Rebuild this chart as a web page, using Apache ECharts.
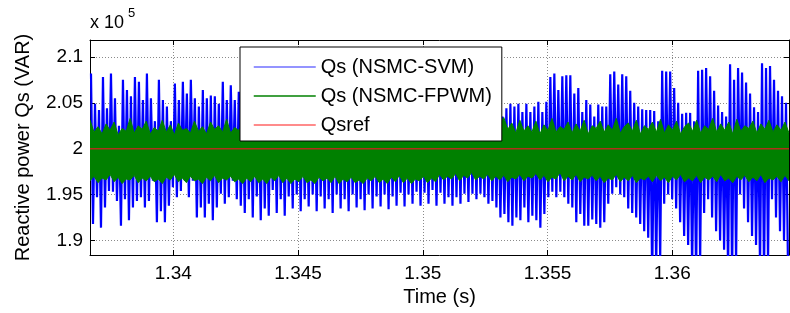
<!DOCTYPE html>
<html>
<head>
<meta charset="utf-8">
<script src="https://cdn.jsdelivr.net/npm/echarts@6/dist/echarts.min.js"></script>
<style>
  html, body { margin: 0; padding: 0; background: #fff; }
  #main { width: 790px; height: 313px; }
</style>
</head>
<body>
<div id="main"></div>
<script type="text/javascript">
// time window of the plot (s) and sample step of the read-off values
var tStart = 1.33666, tEnd = 1.36468;
var tStep = (tEnd - tStart) / 175;

// Qs (NSMC-SVM): upper and lower spike peaks, x1e5 VAR, one pair per step
var blueHi = [
  2.082, 2.049, 2.042, 2.078, 2.044, 2.082, 2.055, 2.025, 2.075, 2.064,
  2.057, 2.078, 2.073, 2.053, 2.082, 2.055, 2.030, 2.075, 2.053, 2.046,
  2.030, 2.071, 2.053, 2.073, 2.060, 2.075, 2.055, 2.046, 2.064, 2.055,
  2.058, 2.057, 2.049, 2.073, 2.053, 2.069, 2.053,
  2.062, 2.045, 2.071, 2.050, 2.066, 2.041, 2.070, 2.052, 2.064, 2.046,
  2.068, 2.051, 2.060, 2.043, 2.066, 2.049, 2.062, 2.045, 2.067, 2.052,
  2.058, 2.044, 2.064, 2.050, 2.061, 2.042, 2.063, 2.048, 2.059, 2.045,
  2.062, 2.050, 2.057, 2.043, 2.060, 2.047, 2.056, 2.044, 2.059, 2.049,
  2.055, 2.042, 2.058, 2.046, 2.054, 2.043, 2.057, 2.048, 2.053, 2.041,
  2.056, 2.045, 2.052, 2.044, 2.055, 2.047, 2.051, 2.040, 2.054, 2.046,
  2.050, 2.043, 2.053, 2.045, 2.049, 2.041,
  2.035, 2.044, 2.049, 2.046, 2.049, 2.040, 2.049, 2.040, 2.046, 2.051,
  2.040, 2.051, 2.078, 2.082, 2.064, 2.079, 2.080, 2.080, 2.060, 2.066,
  2.040, 2.053, 2.048, 2.035, 2.048, 2.046, 2.046, 2.081, 2.084, 2.070,
  2.081, 2.079, 2.063, 2.050, 2.046, 2.043, 2.042, 2.042, 2.041, 2.030,
  2.085, 2.084, 2.084, 2.066, 2.050, 2.038, 2.039, 2.039, 2.030, 2.085,
  2.086, 2.088, 2.079, 2.063, 2.047, 2.040, 2.035, 2.092, 2.075, 2.088,
  2.083, 2.072, 2.060, 2.045, 2.040, 2.093, 2.088, 2.090, 2.075, 2.063,
  2.057, 2.050
];
var blueLo = [
  1.918, 1.947, 1.914, 1.936, 1.954, 1.953, 1.943, 1.916, 1.945, 1.922,
  1.936, 1.943, 1.947, 1.936, 1.943, 1.965, 1.920, 1.932, 1.920, 1.938,
  1.958, 1.947, 1.954, 1.965, 1.947, 1.965, 1.925, 1.936, 1.925, 1.940,
  1.922, 1.936, 1.951, 1.940, 1.947, 1.965, 1.945, 1.938, 1.930, 1.945,
  1.925, 1.948, 1.922, 1.935,
  1.927, 1.955, 1.930, 1.945, 1.927, 1.948, 1.935, 1.950, 1.932, 1.945,
  1.937, 1.950, 1.932, 1.948, 1.935, 1.945, 1.930, 1.950, 1.935, 1.945,
  1.932, 1.950, 1.936, 1.945, 1.933, 1.950, 1.935, 1.948, 1.937, 1.950,
  1.934, 1.948, 1.938, 1.952, 1.937, 1.950, 1.940, 1.953, 1.938, 1.952,
  1.940, 1.955, 1.938, 1.952,
  1.940, 1.947, 1.938, 1.947, 1.940, 1.951, 1.942, 1.951, 1.945, 1.951,
  1.947, 1.940, 1.943, 1.936, 1.925, 1.929, 1.920, 1.916, 1.925, 1.922,
  1.936, 1.920, 1.927, 1.922, 1.914, 1.929, 1.947, 1.953, 1.947, 1.953,
  1.947, 1.940, 1.936, 1.920, 1.929, 1.916, 1.916, 1.923, 1.918, 1.914,
  1.920, 1.940, 1.951, 1.958,
  1.950, 1.947, 1.935, 1.930, 1.925, 1.918, 1.910, 1.903, 1.860, 1.870,
  1.880, 1.940, 1.950, 1.945, 1.935, 1.920, 1.905, 1.895, 1.870, 1.860,
  1.875, 1.930, 1.945, 1.925, 1.910, 1.900, 1.890, 1.865, 1.860, 1.875,
  1.950, 1.935, 1.920, 1.905, 1.895, 1.870, 1.860, 1.875, 1.945, 1.925,
  1.910, 1.900, 1.870
];

// Qs (NSMC-FPWM): top and bottom edge of the dense band
var greenHi = [
  2.031, 2.018, 2.024, 2.016, 2.027, 2.020, 2.029, 2.015, 2.022, 2.019,
  2.033, 2.017, 2.025, 2.021, 2.030, 2.016, 2.023, 2.019, 2.031, 2.018,
  2.026, 2.015, 2.028, 2.020, 2.022, 2.017, 2.030, 2.019, 2.024, 2.016,
  2.029, 2.021, 2.025, 2.018, 2.032, 2.017, 2.023, 2.020, 2.027, 2.016,
  2.026, 2.019, 2.030, 2.017, 2.024, 2.021, 2.028, 2.016, 2.025, 2.020,
  2.031, 2.018, 2.023, 2.017, 2.027, 2.020, 2.029, 2.016, 2.024, 2.019,
  2.028, 2.017, 2.026, 2.021, 2.030, 2.018, 2.022, 2.016, 2.027, 2.020,
  2.025, 2.017, 2.029, 2.019, 2.023, 2.016, 2.028, 2.021, 2.026, 2.018,
  2.030, 2.017, 2.024, 2.020, 2.027, 2.016, 2.029, 2.019, 2.025, 2.018,
  2.031, 2.017, 2.026, 2.020, 2.023, 2.016, 2.028, 2.019, 2.030, 2.018,
  2.024, 2.017, 2.027, 2.034, 2.021, 2.028, 2.017, 2.031, 2.019, 2.025,
  2.018, 2.030, 2.016, 2.026, 2.020, 2.033, 2.018, 2.024, 2.021, 2.029,
  2.017, 2.027, 2.019, 2.031, 2.016, 2.025, 2.022, 2.030, 2.018, 2.026,
  2.020, 2.033, 2.017, 2.024, 2.028, 2.019, 2.031, 2.016, 2.025, 2.021,
  2.029, 2.018, 2.032, 2.017, 2.026, 2.020, 2.030, 2.016, 2.024, 2.028,
  2.019, 2.031, 2.017, 2.025, 2.021, 2.033, 2.018, 2.027, 2.020, 2.029,
  2.016, 2.032, 2.019, 2.025, 2.022, 2.030, 2.017, 2.027, 2.021, 2.031,
  2.018, 2.026, 2.020, 2.029, 2.017
];
var greenLo = [
  1.965, 1.970, 1.963, 1.968, 1.966, 1.972, 1.964, 1.969, 1.962, 1.967,
  1.966, 1.971, 1.963, 1.968, 1.965, 1.970, 1.964, 1.967, 1.962, 1.969,
  1.966, 1.972, 1.964, 1.968, 1.963, 1.970, 1.965, 1.967, 1.962, 1.969,
  1.965, 1.971, 1.963, 1.968, 1.966, 1.970, 1.964, 1.967, 1.962, 1.968,
  1.964, 1.970, 1.963, 1.967, 1.962, 1.969, 1.965, 1.971, 1.963, 1.968,
  1.962, 1.967, 1.964, 1.970, 1.963, 1.966, 1.962, 1.969, 1.965, 1.968,
  1.963, 1.970, 1.962, 1.967, 1.964, 1.969, 1.963, 1.966, 1.962, 1.968,
  1.965, 1.970, 1.963, 1.967, 1.962, 1.969, 1.964, 1.971, 1.963, 1.968,
  1.962, 1.967, 1.965, 1.970, 1.963, 1.968, 1.964, 1.972, 1.966, 1.970,
  1.967, 1.973, 1.965, 1.971, 1.968, 1.974, 1.966, 1.970, 1.967, 1.972,
  1.965, 1.970, 1.966, 1.971, 1.964, 1.969, 1.967, 1.972, 1.965, 1.970,
  1.968, 1.973, 1.966, 1.971, 1.964, 1.969, 1.967, 1.974, 1.965, 1.970,
  1.966, 1.972, 1.964, 1.969, 1.967, 1.971, 1.965, 1.970, 1.963, 1.968,
  1.966, 1.972, 1.964, 1.969, 1.965, 1.971, 1.963, 1.968, 1.966, 1.970,
  1.964, 1.971, 1.965, 1.969, 1.963, 1.970, 1.966, 1.972, 1.964, 1.968,
  1.965, 1.971, 1.963, 1.969, 1.966, 1.970, 1.964, 1.972, 1.965, 1.968,
  1.963, 1.970, 1.966, 1.971, 1.964, 1.969, 1.965, 1.972, 1.963, 1.968,
  1.966, 1.970, 1.964, 1.971, 1.965
];

// Qsref
var refT = [1.33666, 1.36468];
var refV = [2, 2];

var FONT = 'Liberation Sans';

var blueData = [];
for (var k = 0; k < blueHi.length; k++) {
    blueData.push([tStart + (k + 0.25) * tStep, blueHi[k]]);
    blueData.push([tStart + (k + 0.75) * tStep, blueLo[k]]);
}
var gStep = (tEnd - tStart) / (greenHi.length - 1);
var greenRows = [];
for (var i = 0; i < greenHi.length; i++) {
    greenRows.push([tStart + i * gStep, greenLo[i], greenHi[i]]);
}
var refData = refT.map(function (t, j) { return [t, refV[j]]; });

// the FPWM band as one polygon: top edge left to right, bottom edge back
function renderBand(params, api) {
    if (params.dataIndex !== 0) return null;
    var n = greenRows.length, top = [], bot = [];
    for (var i = 0; i < n; i++) {
        top.push(api.coord([api.value(0, i), api.value(2, i)]));
        bot.push(api.coord([api.value(0, i), api.value(1, i)]));
    }
    return {
        type: 'polygon',
        shape: { points: top.concat(bot.reverse()) },
        style: { fill: '#008000', stroke: '#008000', lineWidth: 1 }
    };
}

var myChart = echarts.init(document.getElementById('main'));
var xBase = {
    type: 'value', min: tStart, max: tEnd,
    splitNumber: 5, minInterval: 0.005, maxInterval: 0.005
};
var yBase = {
    type: 'value', min: 1.8842, max: 2.1184,
    splitNumber: 5, minInterval: 0.05, maxInterval: 0.05
};
var noDot = { opacity: 0 };
option = {
    animation: false,
    textStyle: { fontFamily: FONT },
    grid: { left: 90, top: 40, right: 1, bottom: 58, show: false },
    legend: {
        orient: 'vertical', left: 240, top: 47, z: 10,
        backgroundColor: '#fff', borderColor: '#000', borderWidth: 1,
        padding: [10, 10, 6, 13], itemGap: 9,
        itemWidth: 62, itemHeight: 14,
        textStyle: { fontFamily: FONT, fontSize: 20, color: '#000' },
        data: [
            { name: 'Qs (NSMC-SVM)', itemStyle: noDot, lineStyle: { color: '#7070ff', width: 1.5 } },
            { name: 'Qs (NSMC-FPWM)', itemStyle: noDot, lineStyle: { color: '#008000', width: 1.5 } },
            { name: 'Qsref', itemStyle: noDot, lineStyle: { color: '#ff6464', width: 1.5 } }
        ]
    },
    xAxis: [
        Object.assign({}, xBase, {
            position: 'bottom',
            name: 'Time (s)', nameLocation: 'middle', nameGap: 32,
            nameTextStyle: { fontFamily: FONT, fontSize: 20, color: '#000' },
            axisLine: { show: true, lineStyle: { color: '#000', width: 1 } },
            axisTick: { show: true, inside: true, length: 5, lineStyle: { color: '#000' } },
            axisLabel: { fontFamily: FONT, fontSize: 19, color: '#000', margin: 9,
                         showMinLabel: false, showMaxLabel: false },
            splitLine: { show: true, lineStyle: { color: '#8a8a8a', type: [1, 2], width: 1 } }
        }),
        Object.assign({}, xBase, {
            position: 'top',
            axisLine: { show: true, onZero: false, lineStyle: { color: '#000', width: 1 } },
            axisTick: { show: true, inside: true, length: 5, lineStyle: { color: '#000' } },
            axisLabel: { show: false },
            splitLine: { show: false }
        })
    ],
    yAxis: [
        Object.assign({}, yBase, {
            position: 'left',
            name: 'Reactive power Qs (VAR)', nameLocation: 'middle', nameGap: 57,
            nameTextStyle: { fontFamily: FONT, fontSize: 20, color: '#000' },
            axisLine: { show: true, onZero: false, lineStyle: { color: '#000', width: 1 } },
            axisTick: { show: true, inside: true, length: 5, lineStyle: { color: '#000' } },
            axisLabel: { fontFamily: FONT, fontSize: 19, color: '#000', margin: 7,
                         showMinLabel: false, showMaxLabel: false },
            splitLine: { show: true, lineStyle: { color: '#8a8a8a', type: [1, 2], width: 1 } }
        }),
        Object.assign({}, yBase, {
            position: 'right',
            axisLine: { show: true, onZero: false, lineStyle: { color: '#000', width: 1 } },
            axisTick: { show: true, inside: true, length: 5, lineStyle: { color: '#000' } },
            axisLabel: { show: false },
            splitLine: { show: false }
        })
    ],
    graphic: [
        { type: 'text', left: 90, top: 14,
          style: { text: 'x 10', font: '18px "Liberation Sans"', fill: '#000' } },
        { type: 'text', left: 128, top: 7,
          style: { text: '5', font: '13px "Liberation Sans"', fill: '#000' } }
    ],
    series: [
        {
            name: 'Qs (NSMC-SVM)', type: 'line', data: blueData, z: 1,
            symbol: 'none', color: '#0000ff',
            lineStyle: { color: '#0000ff', width: 2.2 }
        },
        {
            name: 'fpwm-band', type: 'custom', data: greenRows, z: 3,
            renderItem: renderBand, clip: true,
            encode: { x: 0, y: [1, 2] }
        },
        {
            // legend entry for the band
            name: 'Qs (NSMC-FPWM)', type: 'line', data: [],
            symbol: 'none', color: '#008000'
        },
        {
            name: 'Qsref', type: 'line', data: refData, z: 4,
            symbol: 'none', color: '#ff0000',
            lineStyle: { color: '#b0301a', width: 1.6 }
        }
    ]
};
myChart.setOption(option);
</script>
</body>
</html>
